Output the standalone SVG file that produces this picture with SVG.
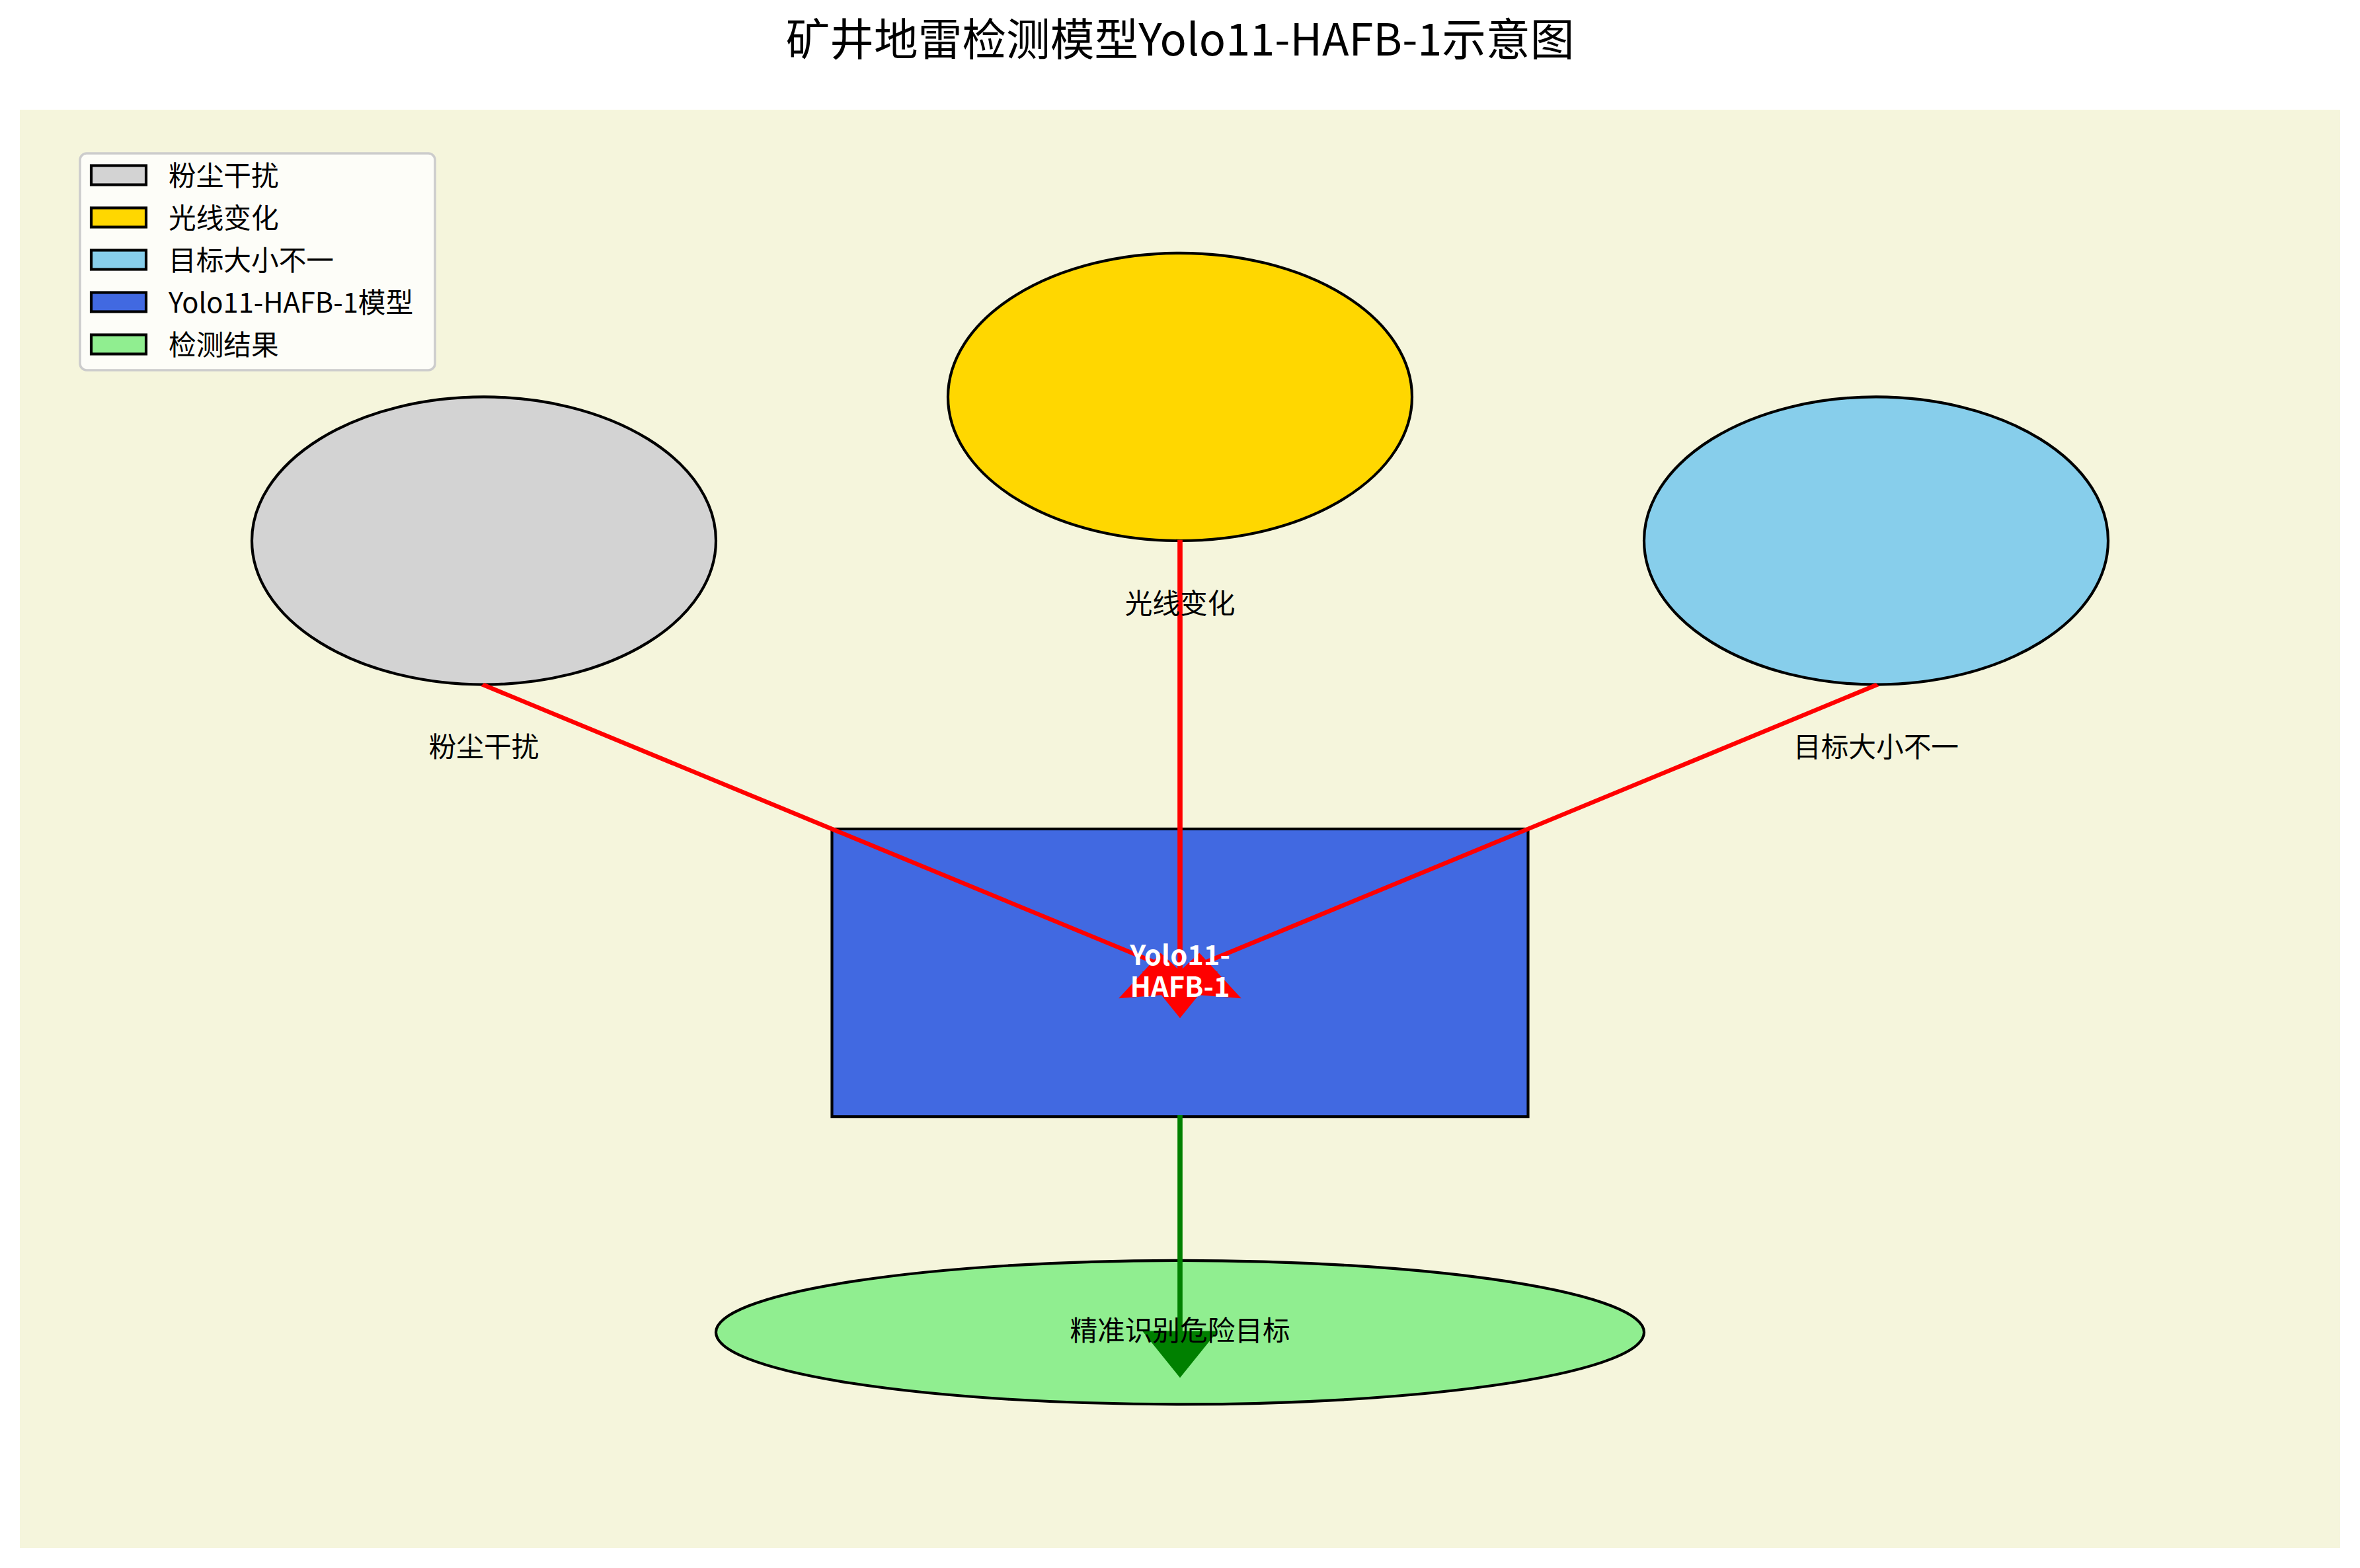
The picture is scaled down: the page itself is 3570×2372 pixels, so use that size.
<svg xmlns="http://www.w3.org/2000/svg" width="3570" height="2372" viewBox="0 0 3570 2372">
<style>
.t{font-family:"Noto Sans CJK SC","Noto Sans",sans-serif;fill:#000}
.lbl{font-size:41.67px;text-anchor:middle}
.leg{font-size:41.67px}
.node{stroke:#000;stroke-width:4.17}
.red{fill:#ff0000;stroke:#ff0000;stroke-width:4.17}
.grn{fill:#008000;stroke:#008000;stroke-width:4.17}
</style>
<rect x="0" y="0" width="3570" height="2372" fill="#ffffff"/>
<rect x="30" y="166" width="3510" height="2176" fill="#f5f5dc"/>
<text class="t" x="1785" y="84" font-size="66.7" text-anchor="middle">矿井地雷检测模型Yolo11-HAFB-1示意图</text>

<g id="node-dust"><ellipse class="node" cx="732" cy="818" rx="351" ry="217.6" fill="#d3d3d3"/></g>
<g id="node-light"><ellipse class="node" cx="1785" cy="600.4" rx="351" ry="217.6" fill="#ffd700"/></g>
<g id="node-size"><ellipse class="node" cx="2838" cy="818" rx="351" ry="217.6" fill="#87ceeb"/></g>
<g id="node-model"><rect class="node" x="1258.5" y="1254" width="1053" height="435.2" fill="#4169e1"/></g>
<g id="node-result"><ellipse class="node" cx="1785" cy="2015.6" rx="702" ry="108.8" fill="#90ee90"/></g>

<g id="connectors">
<polygon class="red" points="1783.25,818.8 1783.25,1471.6 1732.35,1471.6 1785,1536.9 1837.65,1471.6 1786.75,1471.6 1786.75,818.8"/>
<polygon class="red" points="732.97,1035.49 1785.97,1470.69 1814.21,1444.44 1872.62,1507.81 1755.80,1498.76 1784.03,1472.51 731.03,1037.31"/>
<polygon class="red" points="2838.97,1037.31 1785.97,1472.51 1814.21,1498.76 1697.38,1507.81 1755.80,1444.44 1784.03,1470.69 2837.03,1035.49"/>
<polygon class="grn" points="1783.25,1689.2 1783.25,2015.6 1732.35,2015.6 1785,2080.9 1837.65,2015.6 1786.75,2015.6 1786.75,1689.2"/>
</g>

<g id="labels">
<text class="t lbl" x="732" y="1145">粉尘干扰</text>
<text class="t lbl" x="1785" y="928">光线变化</text>
<text class="t lbl" x="2838" y="1145">目标大小不一</text>
<text class="t lbl" x="1785" y="2028">精准识别危险目标</text>
<text class="t lbl" x="1785" y="1460" font-weight="bold" style="fill:#ffffff">Yolo11-</text>
<text class="t lbl" x="1785" y="1508" font-weight="bold" style="fill:#ffffff">HAFB-1</text>
</g>

<g id="legend">
<rect x="121" y="232" width="537" height="328" rx="10" fill="#ffffff" fill-opacity="0.8" stroke="#cccccc" stroke-width="3.5"/>
<rect class="node" x="138" y="250.5" width="83" height="29" fill="#d3d3d3"/>
<rect class="node" x="138" y="314.5" width="83" height="29" fill="#ffd700"/>
<rect class="node" x="138" y="378.5" width="83" height="29" fill="#87ceeb"/>
<rect class="node" x="138" y="442.5" width="83" height="29" fill="#4169e1"/>
<rect class="node" x="138" y="506.5" width="83" height="29" fill="#90ee90"/>
<text class="t leg" x="255" y="281">粉尘干扰</text>
<text class="t leg" x="255" y="345">光线变化</text>
<text class="t leg" x="255" y="409">目标大小不一</text>
<text class="t leg" x="255" y="473">Yolo11-HAFB-1模型</text>
<text class="t leg" x="255" y="537">检测结果</text>
</g>
</svg>
